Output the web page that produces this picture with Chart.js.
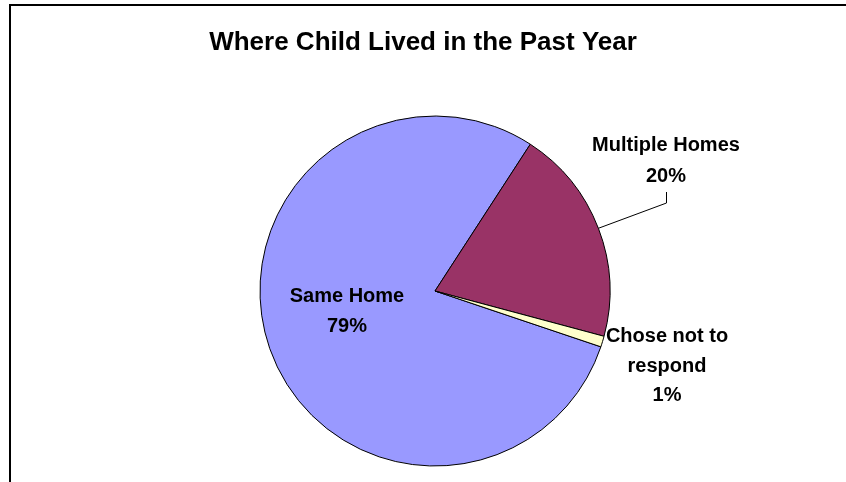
<!DOCTYPE html>
<html>
<head>
<meta charset="utf-8">
<script src="https://cdn.jsdelivr.net/npm/chart.js@4"></script>
<style>
  html, body { margin: 0; padding: 0; background: #fff; }
  #wrap { width: 846px; height: 482px; }
</style>
</head>
<body>
<div id="wrap"><canvas id="pie" width="846" height="482"></canvas></div>
<script>
const chartTitle = 'Where Child Lived in the Past Year';
const categories = ['Same Home', 'Multiple Homes', 'Chose not to respond'];
const shares = [79, 20, 1];
const sliceColors = ['#9999FF', '#993366', '#FFFFCC'];
// how each category name wraps in its label
const labelLines = [['Same Home'], ['Multiple Homes'], ['Chose not to', 'respond']];

const FONT = "'Liberation Sans', Arial, sans-serif";

// label anchors: centre x and first baseline y
const labelSpots = [
  { x: 347, y: 302, gap: 30 },
  { x: 666, y: 151, gap: 31 },
  { x: 667, y: 342, gap: 29.5 }
];

const decorations = {
  id: 'decorations',
  afterDraw(chart) {
    const ctx = chart.ctx;
    ctx.save();

    // frame: top and left rules
    ctx.fillStyle = '#000';
    ctx.fillRect(9, 4, 846 - 9, 2);
    ctx.fillRect(9, 4, 2, 482 - 4);

    // title
    ctx.textAlign = 'center';
    ctx.textBaseline = 'alphabetic';
    ctx.font = 'bold 26px ' + FONT;
    ctx.fillText(chartTitle, 423, 50);

    // slice labels
    ctx.font = 'bold 20px ' + FONT;
    categories.forEach((name, i) => {
      const lines = labelLines[i].concat([shares[i] + '%']);
      const spot = labelSpots[i];
      lines.forEach((t, j) => ctx.fillText(t, spot.x, spot.y + j * spot.gap));
    });

    // leader line from the Multiple Homes slice to its label
    const arc = chart.getDatasetMeta(0).data[1];
    const mid = (arc.startAngle + arc.endAngle) / 2;
    const ex = arc.x + Math.cos(mid) * arc.outerRadius;
    const ey = arc.y + Math.sin(mid) * arc.outerRadius;
    ctx.strokeStyle = '#000';
    ctx.lineWidth = 1;
    ctx.beginPath();
    ctx.moveTo(666.5, 192);
    ctx.lineTo(666.5, 203);
    ctx.lineTo(ex, ey);
    ctx.stroke();

    ctx.restore();
  }
};

new Chart(document.getElementById('pie'), {
  type: 'pie',
  data: {
    labels: categories,
    datasets: [{
      data: shares,
      backgroundColor: sliceColors,
      borderColor: '#000',
      borderWidth: 1,
      radius: 175
    }]
  },
  options: {
    responsive: false,
    animation: false,
    devicePixelRatio: 1,
    rotation: 33 - 284.4,
    layout: { padding: { left: 24, right: 0, top: 100, bottom: 0 } },
    plugins: {
      legend: { display: false },
      tooltip: { enabled: false },
      title: { display: false }
    }
  },
  plugins: [decorations]
});
</script>
</body>
</html>
